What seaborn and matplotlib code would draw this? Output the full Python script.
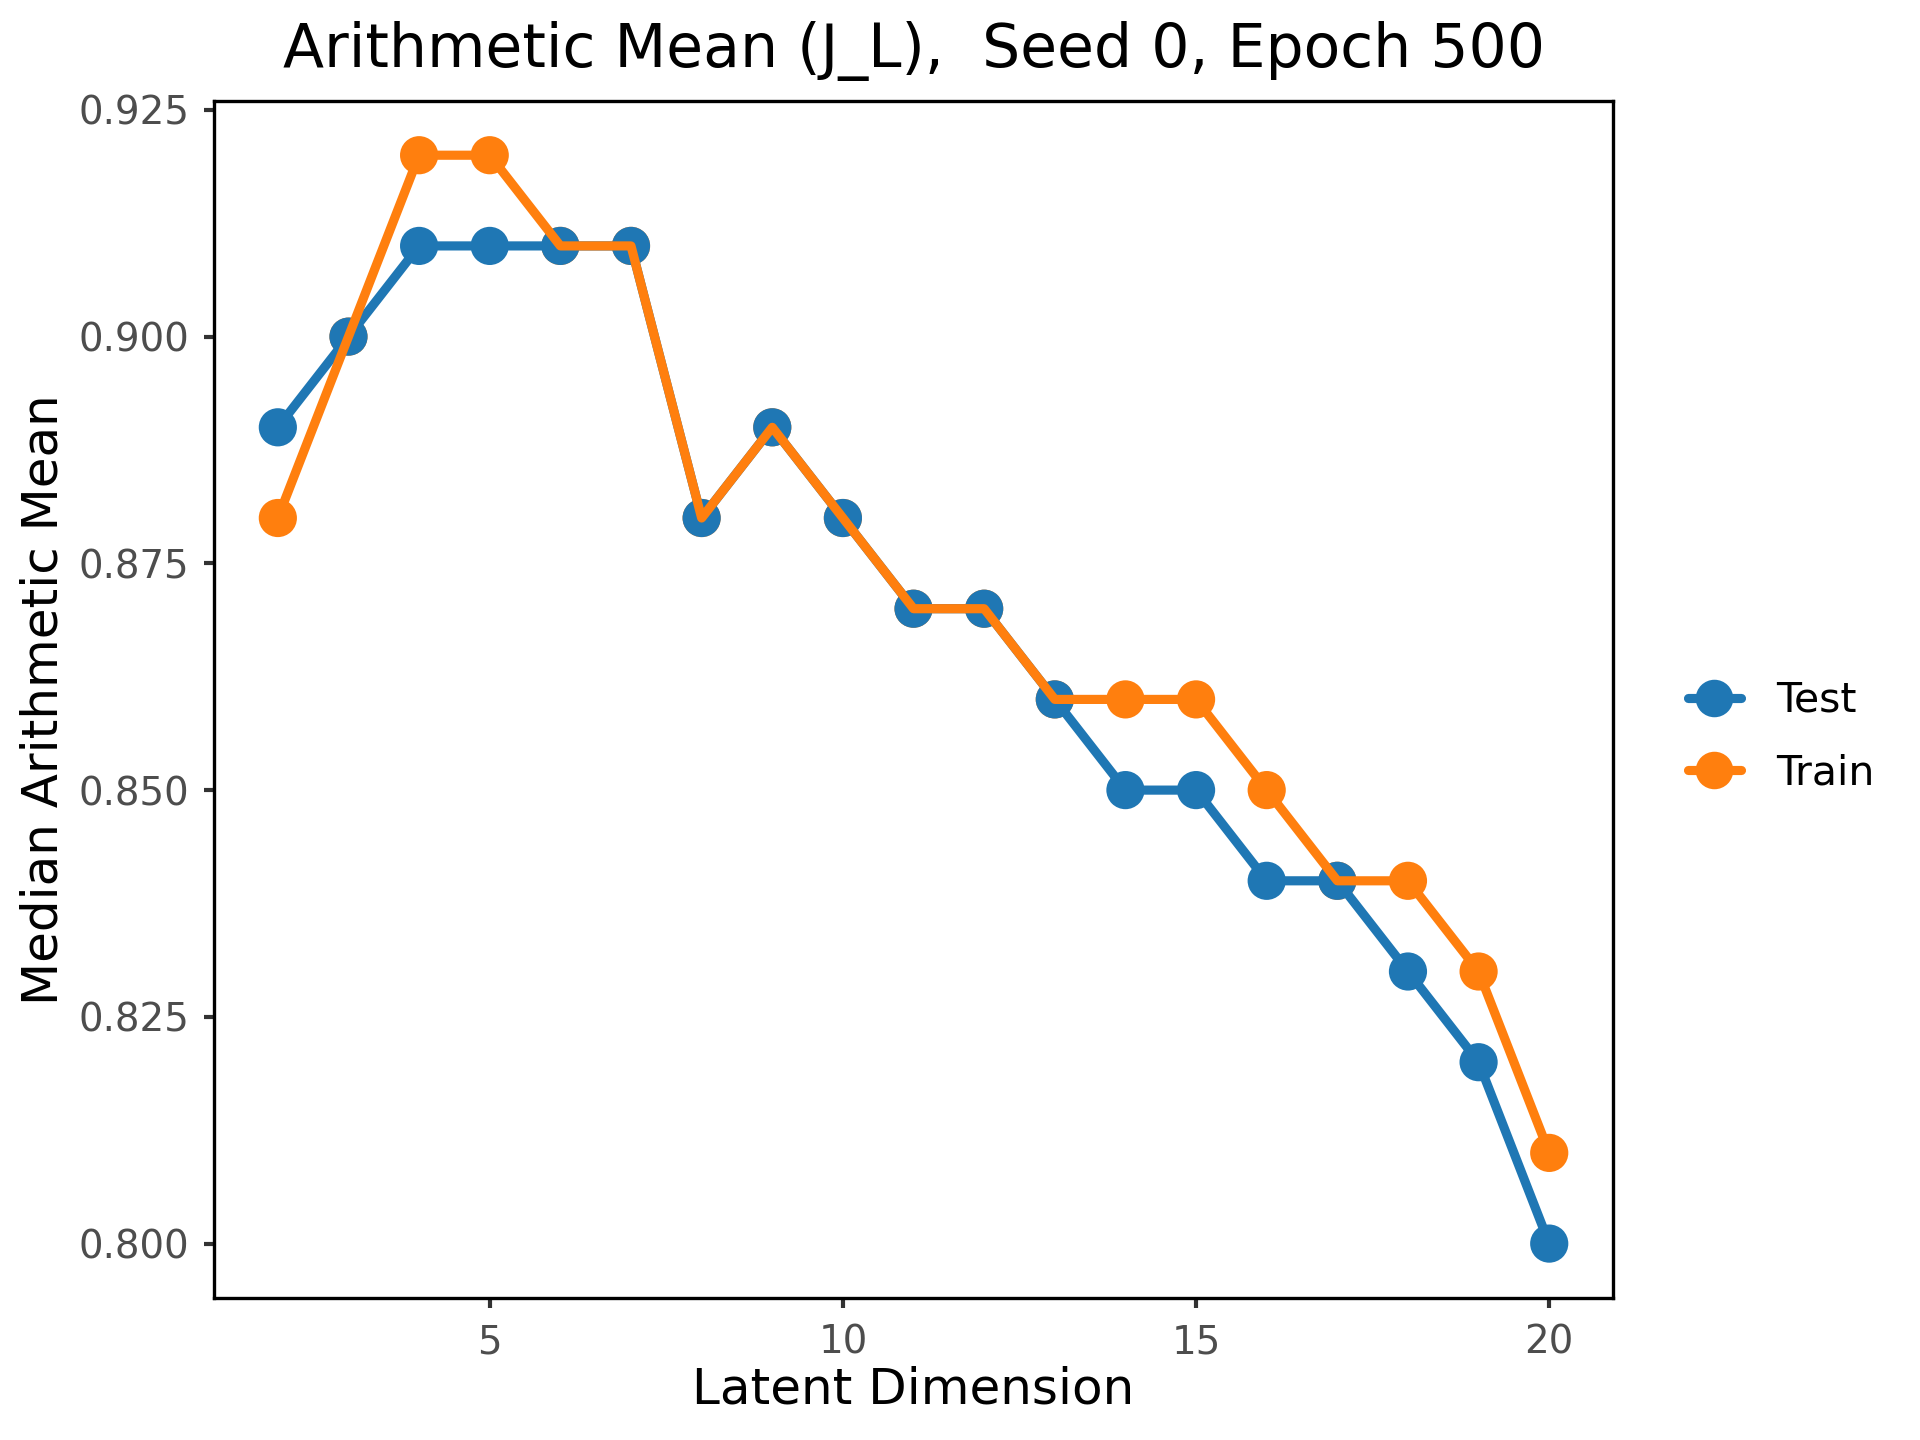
import pandas as pd
import numpy as np
import seaborn as sns
import matplotlib.pyplot as plt
from matplotlib.lines import Line2D

latent_dim = list(range(2, 21))
test_vals = [0.89, 0.90, 0.91, 0.91, 0.91, 0.91, 0.88, 0.89, 0.88, 0.87,
             0.87, 0.86, 0.85, 0.85, 0.84, 0.84, 0.83, 0.82, 0.80]
train_vals = [0.88, 0.90, 0.92, 0.92, 0.91, 0.91, 0.88, 0.89, 0.88, 0.87,
              0.87, 0.86, 0.86, 0.86, 0.85, 0.84, 0.84, 0.83, 0.81]
series = ['Test', 'Train']
colors = {'Test': '#1f77b4', 'Train': '#ff7f0e'}

df = pd.concat([
    pd.DataFrame({'Latent Dimension': latent_dim, 'Value': test_vals, 'Split': 'Test'}),
    pd.DataFrame({'Latent Dimension': latent_dim, 'Value': train_vals, 'Split': 'Train'}),
], ignore_index=True)

sns.set_style('ticks')
plt.rcParams['font.family'] = ['DejaVu Sans']
plt.rcParams['text.color'] = 'black'
plt.rcParams['axes.labelcolor'] = 'black'

fig = plt.figure(figsize=(6.4, 4.8), dpi=300)
ax = fig.add_axes([0.1116, 0.0986, 0.7284, 0.8314])

# markers first (train under test), then lines on top (train line over test)
sns.scatterplot(data=df.iloc[::-1], x='Latent Dimension', y='Value', hue='Split',
                palette=colors, s=84, linewidth=0, legend=False, zorder=2, ax=ax)
sns.lineplot(data=df, x='Latent Dimension', y='Value', hue='Split', hue_order=series,
             palette=colors, lw=2.2, legend=False, zorder=4, ax=ax)

ax.set_xticks([5, 10, 15, 20])
ax.set_yticks(np.arange(0.800, 0.926, 0.025))
ax.set_yticklabels([f'{v:.3f}' for v in np.arange(0.800, 0.926, 0.025)])
ax.tick_params(axis='both', labelsize=9.3, labelcolor='#4d4d4d', color='#333333',
               length=2.5, width=1, direction='out')
for sp in ax.spines.values():
    sp.set_visible(True)
    sp.set_color('black')
    sp.set_linewidth(0.8)

ax.set_title('Arithmetic Mean (J_L),  Seed 0, Epoch 500', fontsize=14.4, pad=8, color='black')
ax.set_xlabel('Latent Dimension', fontsize=12, labelpad=1)
ax.set_ylabel('Median Arithmetic Mean', fontsize=12, labelpad=2.5)

handles = [Line2D([0], [0], color=colors[s], lw=2.2, marker='o', markersize=8) for s in series]
fig.legend(handles, series, loc='center left', bbox_to_anchor=(0.860, 0.488),
           frameon=False, fontsize=9.8, handlelength=1.3, handletextpad=0.85, labelspacing=0.8)

fig.savefig('out.png', dpi=300)
